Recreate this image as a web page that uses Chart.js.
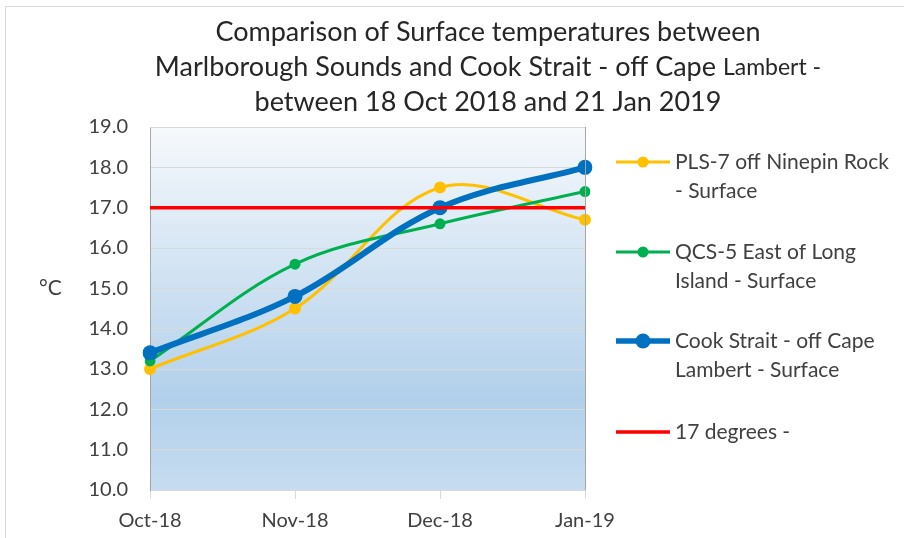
<!DOCTYPE html>
<html><head><meta charset="utf-8">
<script src="https://cdn.jsdelivr.net/npm/chart.js@4/dist/chart.umd.min.js"></script>
<style>html,body{margin:0;padding:0;background:#fff}#w{width:904px;height:538px}</style>
</head><body><div id="w"><canvas id="c" width="904" height="538"></canvas></div>
<script>
const categories = ["Oct-18", "Nov-18", "Dec-18", "Jan-19"];
const pls7 = [13.0, 14.5, 17.5, 16.7];
const qcs5 = [13.2, 15.6, 16.6, 17.4];
const cookStrait = [13.4, 14.8, 17.0, 18.0];
const threshold = [17.0, 17.0, 17.0, 17.0];
const seriesNames = [["PLS-7 off Ninepin Rock", "- Surface"], ["QCS-5 East of Long", "Island - Surface"], ["Cook Strait - off Cape", "Lambert - Surface"], ["17 degrees -"]];
const titleLines = ["Comparison of Surface temperatures between", "Marlborough Sounds and Cook Strait - off Cape ", "Lambert -", "between 18 Oct 2018 and 21 Jan 2019"];
const yTitle = "°C";

const FONT = "Lato, 'Open Sans', sans-serif";
const TXT = "#404040";

const deco = {
  id: 'deco',
  beforeDraw(chart) {
    const ctx = chart.ctx, a = chart.chartArea;
    ctx.save();
    ctx.fillStyle = '#fff'; ctx.fillRect(0, 0, chart.width, chart.height);
    ctx.strokeStyle = '#d9d9d9'; ctx.lineWidth = 1;
    ctx.strokeRect(5.5, 6.5, 1000, 1000);
    const g = ctx.createLinearGradient(0, a.top, 0, a.bottom);
    g.addColorStop(0, '#f6f9fc');
    g.addColorStop(0.75, '#b2d0eb');
    g.addColorStop(1, '#c6dcf0');
    ctx.fillStyle = g;
    ctx.fillRect(a.left, a.top, a.right - a.left, a.bottom - a.top);
    ctx.restore();
  },
  afterDraw(chart) {
    const ctx = chart.ctx, a = chart.chartArea;
    ctx.save();
    ctx.strokeStyle = '#d9d9d9'; ctx.lineWidth = 1;
    ctx.beginPath(); ctx.moveTo(a.left, a.top + 0.5); ctx.lineTo(a.right, a.top + 0.5); ctx.stroke();
    ctx.strokeStyle = '#a6a6a6';
    ctx.beginPath(); ctx.moveTo(Math.round(a.right) + 0.5, a.top); ctx.lineTo(Math.round(a.right) + 0.5, a.bottom); ctx.stroke();
    // title
    ctx.fillStyle = '#262626';
    ctx.textBaseline = 'middle';
    ctx.textAlign = 'center';
    ctx.font = "27px " + FONT;
    ctx.fillText(titleLines[0], 488, 32);
    ctx.fillText(titleLines[3], 488, 102);
    ctx.textAlign = 'left';
    const f1 = "27px " + FONT, f2 = "23px " + FONT;
    ctx.font = f1; const w1 = ctx.measureText(titleLines[1]).width;
    ctx.font = f2; const w2 = ctx.measureText(titleLines[2]).width;
    let x0 = 488 - (w1 + w2) / 2;
    ctx.font = f1; ctx.fillText(titleLines[1], x0, 67);
    ctx.font = f2; ctx.fillText(titleLines[2], x0 + w1, 68);
    // y title
    ctx.fillStyle = TXT;
    ctx.font = "21px " + FONT;
    ctx.textAlign = 'left';
    ctx.fillText(yTitle, 39, 288);
    // legend
    const items = [
      {c: '#FFC000', w: 3, r: 5.5, y: 162},
      {c: '#00B050', w: 3, r: 5.5, y: 252},
      {c: '#0070C0', w: 5.5, r: 7.5, y: 341},
      {c: '#FF0000', w: 3.5, r: 0, y: 432}
    ];
    ctx.font = "21px " + FONT;
    items.forEach((it, i) => {
      ctx.strokeStyle = it.c; ctx.lineWidth = it.w;
      ctx.beginPath(); ctx.moveTo(616, it.y); ctx.lineTo(670, it.y); ctx.stroke();
      if (it.r) { ctx.fillStyle = it.c; ctx.beginPath(); ctx.arc(643, it.y, it.r, 0, Math.PI * 2); ctx.fill(); }
      ctx.fillStyle = TXT;
      seriesNames[i].forEach((t, j) => ctx.fillText(t, 675, it.y + j * 29));
    });
    ctx.restore();
  }
};

new Chart(document.getElementById('c'), {
  type: 'line',
  data: {
    labels: categories,
    datasets: [
      {label: seriesNames[3].join(' '), data: threshold, borderColor: '#FF0000', borderWidth: 3.5, pointRadius: 0, tension: 0, order: 0},
      {label: seriesNames[2].join(' '), data: cookStrait, borderColor: '#0070C0', backgroundColor: '#0070C0', borderWidth: 6, pointRadius: 7.5, pointBorderWidth: 0, tension: 0.35, order: 1},
      {label: seriesNames[1].join(' '), data: qcs5, borderColor: '#00B050', backgroundColor: '#00B050', borderWidth: 3, pointRadius: 5.5, pointBorderWidth: 0, tension: 0.35, order: 2},
      {label: seriesNames[0].join(' '), data: pls7, borderColor: '#FFC000', backgroundColor: '#FFC000', borderWidth: 3, pointRadius: 6, pointBorderWidth: 0, tension: 0.35, order: 3}
    ]
  },
  options: {
    responsive: false,
    animation: false,
    layout: {padding: {left: 0, right: 319, top: 127, bottom: 0}},
    plugins: {legend: {display: false}, title: {display: false}, tooltip: {enabled: false}},
    scales: {
      x: {
        offset: false,
        afterFit(s) { s.height = 48; },
        grid: {display: true, drawOnChartArea: false, drawTicks: true, tickLength: 9, color: '#d9d9d9'},
        border: {color: '#d9d9d9'},
        ticks: {color: TXT, font: {family: FONT, size: 20}, padding: 10, maxRotation: 0}
      },
      y: {
        min: 10, max: 19,
        afterFit(s) { s.width = 150; },
        grid: {color: '#d9d9d9', drawTicks: false},
        border: {color: '#a6a6a6'},
        ticks: {stepSize: 1, color: TXT, font: {family: FONT, size: 20}, padding: 22, callback: v => Number(v).toFixed(1)}
      }
    }
  },
  plugins: [deco]
});
</script></body></html>
